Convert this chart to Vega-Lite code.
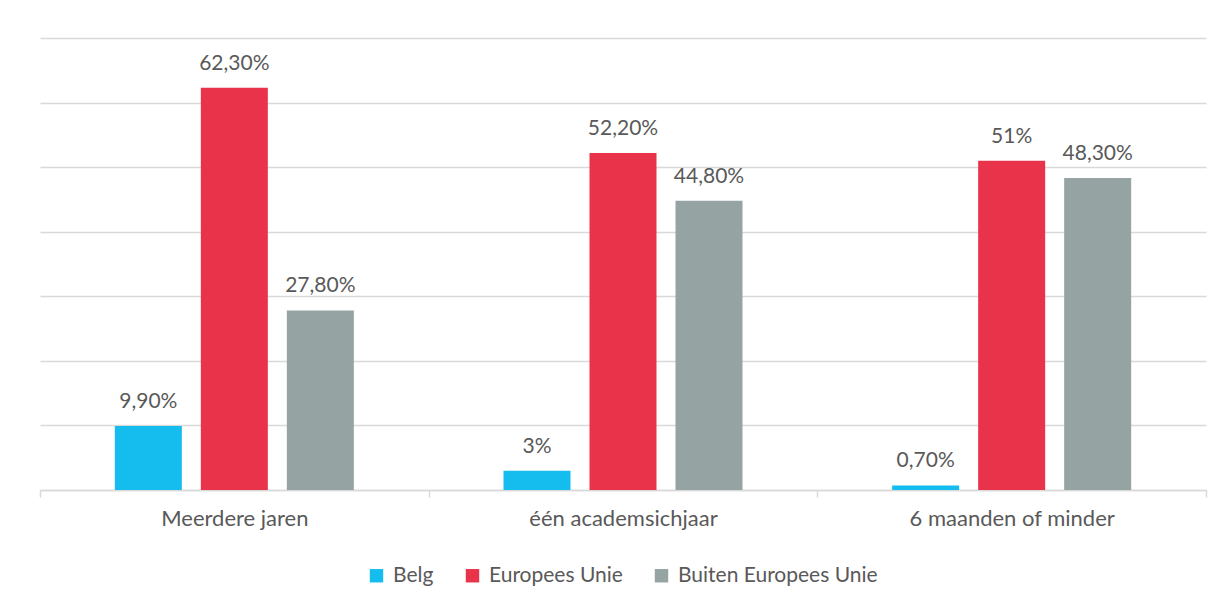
{
  "$schema": "https://vega.github.io/schema/vega-lite/v6.json",
  "width": 1166,
  "height": 452,
  "autosize": {"type": "none"},
  "padding": {"left": 40, "top": 38, "right": 25, "bottom": 118},
  "background": "white",
  "config": {
    "view": {"stroke": null},
    "font": "Lato",
    "text": {"font": "Lato"}
  },
  "data": {
    "values": [
      {"cat": "Meerdere jaren", "groep": "Belg", "waarde": 9.9, "label": "9,90%"},
      {"cat": "Meerdere jaren", "groep": "Europees Unie", "waarde": 62.3, "label": "62,30%"},
      {"cat": "Meerdere jaren", "groep": "Buiten Europees Unie", "waarde": 27.8, "label": "27,80%"},
      {"cat": "één academsichjaar", "groep": "Belg", "waarde": 3, "label": "3%"},
      {"cat": "één academsichjaar", "groep": "Europees Unie", "waarde": 52.2, "label": "52,20%"},
      {"cat": "één academsichjaar", "groep": "Buiten Europees Unie", "waarde": 44.8, "label": "44,80%"},
      {"cat": "6 maanden of minder", "groep": "Belg", "waarde": 0.7, "label": "0,70%"},
      {"cat": "6 maanden of minder", "groep": "Europees Unie", "waarde": 51, "label": "51%"},
      {"cat": "6 maanden of minder", "groep": "Buiten Europees Unie", "waarde": 48.3, "label": "48,30%"}
    ]
  },
  "encoding": {
    "x": {
      "field": "cat", "type": "nominal", "sort": null, "title": null,
      "scale": {"paddingInner": 0, "paddingOuter": 0},
      "axis": {
        "labelAngle": 0, "labelFontSize": 22, "labelColor": "#595959", "labelFont": "Lato", "labelLimit": 400,
        "labelPadding": 11, "domainColor": "#d9d9d9", "domainWidth": 1.5,
        "tickColor": "#d9d9d9", "tickSize": 7, "tickWidth": 1.5, "tickBand": "extent"
      }
    },
    "xOffset": {
      "field": "groep", "type": "nominal", "sort": ["Belg", "Europees Unie", "Buiten Europees Unie"],
      "scale": {"paddingInner": 0.221, "paddingOuter": 0.87}
    },
    "y": {
      "field": "waarde", "type": "quantitative", "title": null,
      "scale": {"domain": [0, 70], "nice": false},
      "axis": {
        "values": [0, 10, 20, 30, 40, 50, 60, 70], "labels": false, "ticks": false, "domain": false,
        "gridColor": "#d9d9d9", "gridWidth": 1.5
      }
    }
  },
  "layer": [
    {
      "mark": {"type": "bar"},
      "encoding": {
        "color": {
          "field": "groep", "type": "nominal", "sort": ["Belg", "Europees Unie", "Buiten Europees Unie"],
          "scale": {"domain": ["Belg", "Europees Unie", "Buiten Europees Unie"], "range": ["#15BDEE", "#E8334B", "#95A3A2"]},
          "legend": {
            "title": null, "orient": "none", "legendX": 326, "legendY": 527, "direction": "horizontal", "symbolType": "square",
            "symbolSize": 180, "symbolStrokeWidth": 0, "symbolOpacity": 1, "labelFontSize": 21, "labelColor": "#595959",
            "labelFont": "Lato", "columnPadding": 28, "labelOffset": 6, "labelLimit": 400
          }
        }
      }
    },
    {
      "mark": {"type": "text", "fontSize": 21, "color": "#595959", "baseline": "alphabetic", "dy": -18, "font": "Lato"},
      "encoding": {"text": {"field": "label"}}
    }
  ]
}
